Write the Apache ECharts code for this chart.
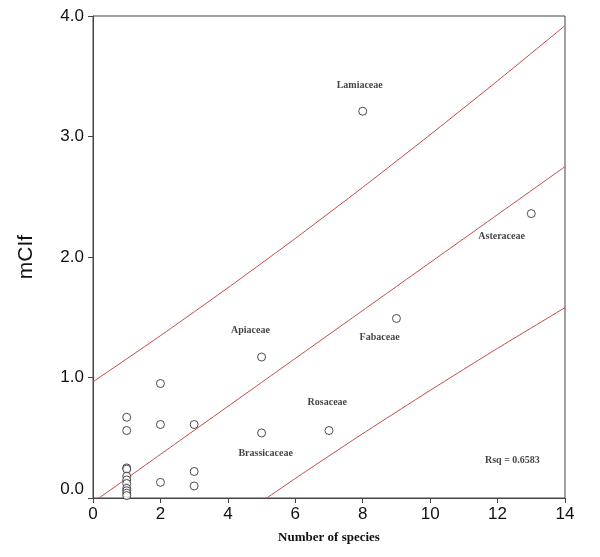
<!DOCTYPE html>
<html>
<head>
<meta charset="utf-8">
<script src="https://cdn.jsdelivr.net/npm/echarts@6/dist/echarts.min.js"></script>
<style>
  html, body { margin: 0; padding: 0; background: #fff; }
  #chart { width: 600px; height: 557px; }
</style>
</head>
<body>
<div id="chart"></div>
<script>
// number of species per family vs mCIf
const speciesX = [1, 1, 1, 1, 1, 1, 1, 1, 1, 1, 1, 2, 2, 2, 3, 3, 3, 5, 5, 7, 8, 9, 13]
const mcifY = [0.67, 0.56, 0.25, 0.24, 0.18, 0.15, 0.12, 0.08, 0.06, 0.04, 0.02,
  0.95, 0.61, 0.13, 0.61, 0.22, 0.10, 1.17, 0.54, 0.56, 3.21, 1.49, 2.36]

const bandX = [0, 2, 4, 6, 8, 10, 12, 14]
const fitY = [-0.036, 0.362, 0.760, 1.158, 1.556, 1.954, 2.352, 2.750]
const upperY = [0.964, 1.347, 1.744, 2.154, 2.578, 3.015, 3.462, 3.920]
const lowerY = [-1.036, -0.623, -0.224, 0.162, 0.534, 0.893, 1.242, 1.580]

// annotation texts and where they sit (data units)
const noteText = ['Lamiaceae', 'Asteraceae', 'Apiaceae', 'Fabaceae', 'Rosaceae', 'Brassicaceae', 'Rsq = 0.6583']
const noteX = [7.91, 12.12, 4.67, 8.50, 6.95, 5.12, 12.44]
const noteY = [3.42, 2.17, 1.39, 1.33, 0.79, 0.37, 0.31]

const xTicks = [0, 2, 4, 6, 8, 10, 12, 14]
const yTicks = [0, 1, 2, 3, 4]

const pairs = (xs, ys) => xs.map((x, i) => [x, ys[i]])
const redLine = (name, ys) => ({
  name,
  type: 'line',
  data: pairs(bandX, ys),
  showSymbol: false,
  smooth: 0.2,
  clip: true,
  lineStyle: { color: '#c44a4a', width: 1 },
  silent: true,
  z: 2,
})

const option = {
  backgroundColor: '#fff',
  animation: false,
  grid: {
    left: 93,
    right: 35,
    top: 16,
    bottom: 59,
    show: true,
    borderColor: '#444',
    borderWidth: 1,
  },
  xAxis: {
    type: 'value',
    min: xTicks[0],
    max: xTicks[xTicks.length - 1],
    interval: 2,
    name: 'Number of species',
    nameLocation: 'middle',
    nameGap: 33,
    nameTextStyle: { fontFamily: 'Liberation Serif', fontWeight: 'bold', fontSize: 13, color: '#111' },
    axisLine: { lineStyle: { color: '#444' } },
    axisTick: { length: 5, lineStyle: { color: '#444' } },
    axisLabel: { fontFamily: 'Liberation Sans', fontSize: 17, color: '#111', margin: 8 },
    splitLine: { show: false },
  },
  yAxis: {
    type: 'value',
    min: yTicks[0],
    max: yTicks[yTicks.length - 1],
    interval: 1,
    name: 'mCIf',
    nameLocation: 'middle',
    nameGap: 56,
    nameTextStyle: { fontFamily: 'Liberation Sans', fontSize: 21, color: '#111' },
    axisLine: { show: true, lineStyle: { color: '#444' } },
    axisTick: { show: true, length: 5, lineStyle: { color: '#444' } },
    axisLabel: {
      fontFamily: 'Liberation Sans',
      fontSize: 17,
      color: '#111',
      margin: 9,
      formatter: v => v.toFixed(1),
      verticalAlignMinLabel: 'bottom',
    },
    splitLine: { show: false },
  },
  series: [
    redLine('upper', upperY),
    redLine('fit', fitY),
    redLine('lower', lowerY),
    {
      name: 'families',
      type: 'scatter',
      data: pairs(speciesX, mcifY),
      symbol: 'circle',
      symbolSize: 8,
      itemStyle: { color: '#fff', borderColor: '#222', borderWidth: 1 },
      z: 3,
    },
    {
      name: 'notes',
      type: 'scatter',
      data: noteText.map((t, i) => ({ value: [noteX[i], noteY[i]], name: t })),
      symbolSize: 0,
      silent: true,
      label: {
        show: true,
        position: 'inside',
        formatter: p => p.name,
        fontFamily: 'Liberation Serif',
        fontWeight: 'bold',
        fontSize: 10,
        color: '#111',
      },
      z: 4,
    },
  ],
}

const chart = echarts.init(document.getElementById('chart'))
chart.setOption(option)
</script>
</body>
</html>
